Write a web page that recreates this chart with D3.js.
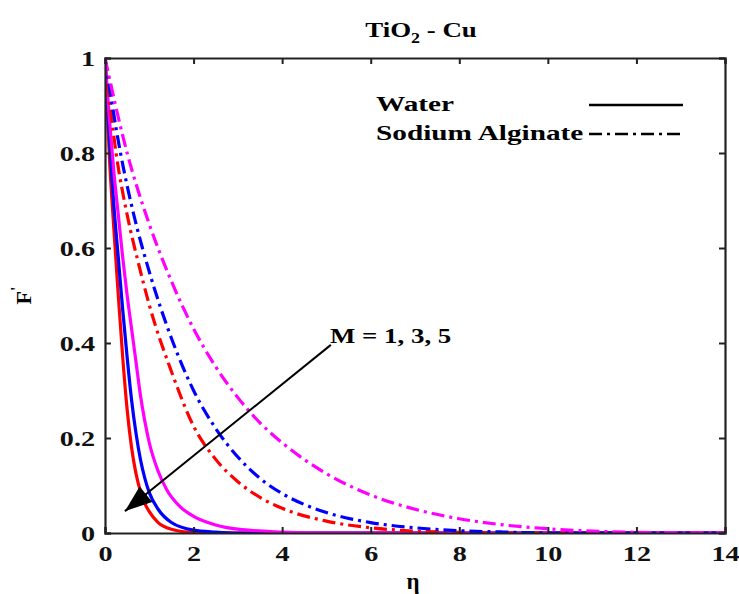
<!DOCTYPE html>
<html>
<head>
<meta charset="utf-8">
<script src="https://cdn.jsdelivr.net/npm/d3@7"></script>
<style>
  body { margin: 0; background: #fff; }
  svg text {
    font-family: "Liberation Serif", "Times New Roman", Tinos, Times, "DejaVu Serif", "Noto Serif", serif;
    font-weight: bold;
  }
</style>
</head>
<body>
<div id="chart"></div>
<script>
// TiO2 - Cu, F' against eta, water (solid) vs sodium alginate (dash-dot)
(function () {
  "use strict";

  // [eta, F'] pairs
  var waterRed = [[0, 1], [0.1, 0.79], [0.2, 0.64], [0.3, 0.5], [0.4, 0.37], [0.5, 0.26], [0.6, 0.18],
    [0.7, 0.125], [0.8, 0.088], [0.9, 0.062], [1, 0.045], [1.2, 0.022], [1.5, 0.008], [2, 0.001],
    [2.5, 0], [14, 0]];
  var waterBlue = [[0, 1], [0.1, 0.83], [0.2, 0.69], [0.3, 0.58], [0.4, 0.47], [0.5, 0.37], [0.6, 0.28],
    [0.7, 0.21], [0.8, 0.155], [0.9, 0.115], [1, 0.085], [1.2, 0.05], [1.5, 0.022], [2, 0.006],
    [2.5, 0.002], [3, 0], [14, 0]];
  var waterMagenta = [[0, 1], [0.1, 0.87], [0.2, 0.76], [0.3, 0.67], [0.4, 0.58], [0.5, 0.5], [0.6, 0.43],
    [0.7, 0.36], [0.8, 0.29], [0.9, 0.235], [1, 0.19], [1.2, 0.13], [1.4, 0.09], [1.7, 0.055],
    [2, 0.035], [2.5, 0.017], [3, 0.008], [4, 0.002], [5, 0], [14, 0]];
  var alginateRed = [[0, 1], [0.25, 0.8], [0.5, 0.67], [0.75, 0.57], [1, 0.48], [1.5, 0.34], [2, 0.225],
    [2.5, 0.155], [3, 0.108], [3.5, 0.075], [4, 0.052], [5, 0.025], [6, 0.011], [7, 0.004], [8, 0.0015],
    [9, 0], [14, 0]];
  var alginateBlue = [[0, 1], [0.35, 0.8], [0.65, 0.67], [1, 0.55], [1.5, 0.41], [2, 0.3], [2.5, 0.22],
    [3, 0.16], [3.5, 0.115], [4, 0.083], [4.5, 0.06], [5, 0.043], [6, 0.022], [7, 0.011], [8, 0.005],
    [9, 0.002], [10, 0], [14, 0]];
  var alginateMagenta = [[0, 1], [0.5, 0.8], [1, 0.65], [1.5, 0.53], [2, 0.43], [2.5, 0.35], [3, 0.285],
    [3.5, 0.232], [4, 0.19], [5, 0.125], [6, 0.08], [7, 0.05], [8, 0.03], [9, 0.017], [10, 0.009],
    [11, 0.004], [12, 0.0015], [13, 0.0005], [14, 0]];

  var xTicks = [0, 2, 4, 6, 8, 10, 12, 14];
  var yTicks = [0, 0.2, 0.4, 0.6, 0.8, 1];

  var dashDot = "13,5,3,5";
  var series = [
    { data: waterRed, color: "#ff0000", dash: null },
    { data: waterBlue, color: "#0000ff", dash: null },
    { data: waterMagenta, color: "#ff00ff", dash: null },
    { data: alginateRed, color: "#ff0000", dash: dashDot },
    { data: alginateBlue, color: "#0000ff", dash: dashDot },
    { data: alginateMagenta, color: "#ff00ff", dash: dashDot }
  ];

  var width = 739, height = 594;
  var margin = { top: 58, right: 14, bottom: 61, left: 105 };
  var w = width - margin.left - margin.right;
  var h = height - margin.top - margin.bottom;
  var stretchX = 1.28; // the source figure's lettering is wide

  // widen text horizontally, keeps its anchor
  function stretch(sel, f) {
    sel.each(function () {
      var len = this.getComputedTextLength();
      d3.select(this).attr("textLength", len * (f || stretchX)).attr("lengthAdjust", "spacingAndGlyphs");
    });
  }

  var svg = d3.select("#chart").append("svg")
    .attr("width", width)
    .attr("height", height);

  var g = svg.append("g").attr("transform", "translate(" + margin.left + "," + margin.top + ")");

  var x = d3.scaleLinear().domain([0, 14]).range([0, w]);
  var y = d3.scaleLinear().domain([0, 1]).range([h, 0]);

  var clip = svg.append("defs").append("clipPath").attr("id", "plotclip");
  clip.append("rect").attr("x", 0).attr("y", -2).attr("width", w).attr("height", h + 2);

  var line = d3.line()
    .x(function (d) { return x(d[0]); })
    .y(function (d) { return y(d[1]); })
    .curve(d3.curveMonotoneX);

  g.append("g").attr("clip-path", "url(#plotclip)")
    .selectAll("path.curve")
    .data(series)
    .enter().append("path")
    .attr("class", "curve")
    .attr("d", function (d) { return line(d.data); })
    .attr("fill", "none")
    .attr("stroke", function (d) { return d.color; })
    .attr("stroke-width", 3.2)
    .attr("stroke-dasharray", function (d) { return d.dash; });

  // axes, ticks pointing inward on all four sides
  var fmt = d3.format("~g");
  var bottom = g.append("g").attr("transform", "translate(0," + h + ")")
    .call(d3.axisBottom(x).tickValues(xTicks).tickSize(-6).tickPadding(12).tickFormat(fmt));
  var left = g.append("g")
    .call(d3.axisLeft(y).tickValues(yTicks).tickSize(-6).tickPadding(10).tickFormat(fmt));
  var top = g.append("g")
    .call(d3.axisTop(x).tickValues(xTicks).tickSize(-6).tickFormat(""));
  var right = g.append("g").attr("transform", "translate(" + w + ",0)")
    .call(d3.axisRight(y).tickValues(yTicks).tickSize(-6).tickFormat(""));

  [bottom, left, top, right].forEach(function (ax) {
    ax.attr("font-family", null);
    ax.select(".domain").attr("stroke", "#222").attr("stroke-width", 2.2);
    ax.selectAll(".tick line").attr("stroke", "#222").attr("stroke-width", 2);
    ax.selectAll("text").attr("font-size", 22).attr("fill", "#111");
  });
  bottom.selectAll("text").attr("dy", "0.72em");
  stretch(bottom.selectAll("text"));
  stretch(left.selectAll("text"));

  // title
  var title = svg.append("text")
    .attr("x", margin.left + x(7) + 6)
    .attr("y", 37)
    .attr("text-anchor", "middle")
    .attr("font-size", 21);
  title.append("tspan").text("TiO");
  title.append("tspan").attr("font-size", 14).attr("dy", 6).text("2");
  title.append("tspan").attr("dy", -6).text(" - Cu");
  stretch(title);

  // axis labels
  svg.append("text")
    .attr("x", margin.left + x(7) - 2)
    .attr("y", 589)
    .attr("text-anchor", "middle")
    .attr("font-size", 23)
    .text("η");

  var yl = svg.append("text")
    .attr("transform", "translate(31," + (margin.top + y(0.5)) + ") rotate(-90)")
    .attr("text-anchor", "middle")
    .attr("font-size", 22);
  yl.append("tspan").text("F");
  yl.append("tspan").attr("dy", -9).attr("font-size", 16).text("'");

  // legend
  var legend = [
    { label: "Water", dash: null, ty: 111, ly: 105 },
    { label: "Sodium Alginate", dash: "13,5,3,5", ty: 140, ly: 134 }
  ];
  var lg = svg.append("g");
  lg.selectAll("text.leg")
    .data(legend)
    .enter().append("text")
    .attr("class", "leg")
    .attr("x", 376)
    .attr("y", function (d) { return d.ty; })
    .attr("font-size", 22)
    .text(function (d) { return d.label; });
  stretch(lg.selectAll("text.leg"), 1.33);
  lg.selectAll("line.leg")
    .data(legend)
    .enter().append("line")
    .attr("class", "leg")
    .attr("x1", 589).attr("x2", 683)
    .attr("y1", function (d) { return d.ly; })
    .attr("y2", function (d) { return d.ly; })
    .attr("stroke", "#000")
    .attr("stroke-width", 2.6)
    .attr("stroke-dasharray", function (d) { return d.dash; });

  // annotation arrow: M = 1, 3, 5
  var from = [5.1, 0.396], to = [0.45, 0.046];
  g.append("line")
    .attr("x1", x(from[0])).attr("y1", y(from[1]))
    .attr("x2", x(to[0])).attr("y2", y(to[1]))
    .attr("stroke", "#000")
    .attr("stroke-width", 2);
  // filled arrowhead drawn as triangle at the tip
  var ang = Math.atan2(y(to[1]) - y(from[1]), x(to[0]) - x(from[0]));
  var tx = x(to[0]), ty = y(to[1]), len = 27, half = 10;
  var bx = tx - len * Math.cos(ang), by = ty - len * Math.sin(ang);
  g.append("path")
    .attr("d", "M" + tx + "," + ty +
      "L" + (bx + half * Math.sin(ang)) + "," + (by - half * Math.cos(ang)) +
      "L" + (bx - half * Math.sin(ang)) + "," + (by + half * Math.cos(ang)) + "Z")
    .attr("fill", "#000");

  var ml = g.append("text")
    .attr("x", x(5.08))
    .attr("y", y(0.4))
    .attr("font-size", 21)
    .text("M = 1, 3, 5");
  stretch(ml);
})();
</script>
</body>
</html>
